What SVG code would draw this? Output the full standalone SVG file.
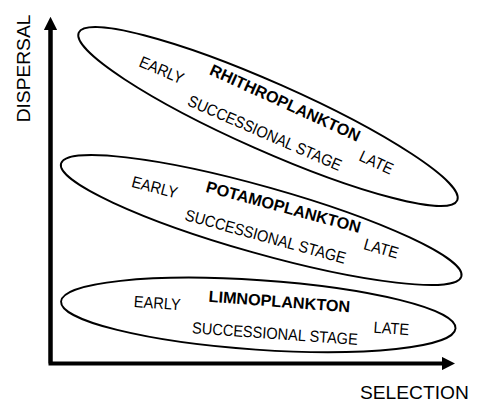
<svg xmlns="http://www.w3.org/2000/svg" width="477" height="403" viewBox="0 0 477 403">
<style>
text{font-family:"Liberation Sans",Arial,sans-serif;fill:#000}
.n{font-size:16.2px}
.b{font-size:16.2px;font-weight:bold}
.ax{font-size:19.2px}
.el{fill:none;stroke:#000;stroke-width:1.9}
.axis{fill:none;stroke:#000;stroke-width:4}
</style>
<defs>
<marker id="arr" viewBox="0 0 10 10" refX="0" refY="5" markerWidth="3.3" markerHeight="3.3" markerUnits="strokeWidth" orient="auto">
<path d="M0,0 L10,5 L0,10 z" fill="#000"/>
</marker>
</defs>
<g id="connectors">
<path class="axis" d="M50.5,30 L50.5,363.5 L442,363.5" marker-end="url(#arr)"/>
<path class="axis" d="M50.5,363.5 L50.5,30" marker-end="url(#arr)"/>
</g>
<g id="axis-labels">
<text class="ax" transform="translate(30,68.5) rotate(-90)" text-anchor="middle">DISPERSAL</text>
<text class="ax" x="360" y="398.5">SELECTION</text>
</g>
<g id="rhithroplankton">
<ellipse class="el" cx="268" cy="116.5" rx="207" ry="34" transform="rotate(23.9 268 116.5)"/>
<text class="n" transform="translate(138,66) rotate(23) scale(0.9 1)">EARLY</text>
<text class="b" transform="translate(208.5,74) rotate(24.5)">RHITHROPLANKTON</text>
<text class="n" transform="translate(186.5,105) rotate(23.5) scale(0.9 1)">SUCCESSIONAL STAGE</text>
<text class="n" transform="translate(358,160) rotate(25) scale(0.9 1)">LATE</text>
</g>
<g id="potamoplankton">
<ellipse class="el" cx="261.2" cy="220" rx="208" ry="33.4" transform="rotate(15.75 261.2 220)"/>
<text class="n" transform="translate(130.7,186.7) rotate(14.5) scale(0.9 1)">EARLY</text>
<text class="b" transform="translate(205,191.7) rotate(15)">POTAMOPLANKTON</text>
<text class="n" transform="translate(184,220) rotate(15.3) scale(0.9 1)">SUCCESSIONAL STAGE</text>
<text class="n" transform="translate(362.7,249) rotate(16) scale(0.9 1)">LATE</text>
</g>
<g id="limnoplankton">
<ellipse class="el" cx="258.3" cy="314.9" rx="197.7" ry="34.8" transform="rotate(3.9 258.3 314.9)"/>
<text class="n" transform="translate(133.5,307) rotate(4) scale(0.9 1)">EARLY</text>
<text class="b" transform="translate(208.3,301.7) rotate(4.3)">LIMNOPLANKTON</text>
<text class="n" transform="translate(191.7,333.3) rotate(4) scale(0.9 1)">SUCCESSIONAL STAGE</text>
<text class="n" transform="translate(373.3,332.7) rotate(4) scale(0.9 1)">LATE</text>
</g>
</svg>
